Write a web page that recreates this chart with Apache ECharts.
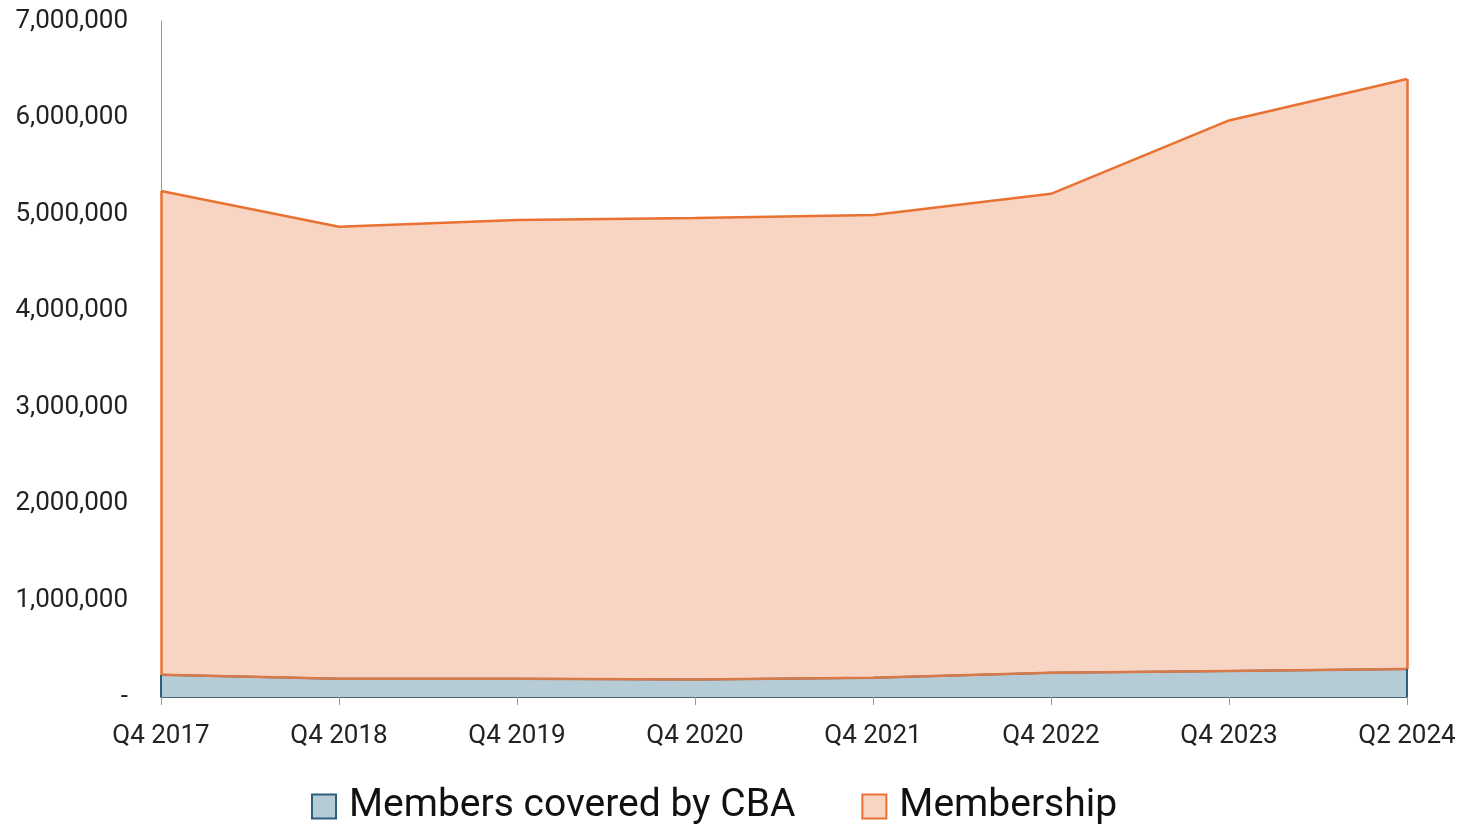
<!DOCTYPE html>
<html>
<head>
<meta charset="utf-8">
<script src="https://cdn.jsdelivr.net/npm/echarts@6/dist/echarts.min.js"></script>
<style>
  html, body { margin: 0; padding: 0; background: #fff; }
  #chart { width: 1465px; height: 825px; }
</style>
</head>
<body>
<div id="chart"></div>
<script>
const categories = ["Q4 2017", "Q4 2018", "Q4 2019", "Q4 2020", "Q4 2021", "Q4 2022", "Q4 2023", "Q2 2024"];
// members covered by a CBA (bottom band)
const cbaMembers = [230000, 190000, 190000, 180000, 200000, 250000, 270000, 290000];
// membership, stacked on top of the CBA band
const membership = [5010000, 4680000, 4750000, 4780000, 4790000, 4960000, 5700000, 6110000];

const last = categories.length - 1;
const totals = cbaMembers.map((v, i) => v + membership[i]);

const font = "Roboto, 'Liberation Sans', sans-serif";
const blueLine = "#2b5f7c";
const orangeLine = "#e97132";

// side edges of each band, like the spreadsheet's area border
const edge = (i, from, to) => [
  { coord: [categories[i], from] },
  { coord: [categories[i], to] }
];

const myChart = echarts.init(document.getElementById("chart"));

const option = {
  animation: false,
  grid: { left: 161, right: 58, top: 21, bottom: 128 },
  legend: {
    top: 782,
    left: 306,
    itemWidth: 24,
    itemHeight: 24,
    itemGap: 66,
    textStyle: { fontFamily: font, fontSize: 39, color: "#111", padding: [0, 0, 0, 8] },
    data: [
      { name: "Members covered by CBA", icon: "rect", itemStyle: { color: "#b5cbd6", borderColor: blueLine, borderWidth: 2 } },
      { name: "Membership", icon: "rect", itemStyle: { color: "#f8d4c2", borderColor: orangeLine, borderWidth: 2 } }
    ]
  },
  xAxis: {
    type: "category",
    boundaryGap: false,
    data: categories,
    axisLine: { lineStyle: { color: "#4f6472", width: 2 } },
    axisTick: { show: true, length: 8, lineStyle: { color: "#999" } },
    axisLabel: { fontFamily: font, fontSize: 26, color: "#222", margin: 26 }
  },
  yAxis: {
    type: "value",
    min: 0,
    max: 7000000,
    interval: 1000000,
    splitLine: { show: false },
    axisLine: { show: true, lineStyle: { color: "#999", width: 1 } },
    axisTick: { show: false },
    axisLabel: {
      fontFamily: font, fontSize: 26, color: "#222", margin: 33,
      formatter: (v) => v === 0 ? "-" : v.toLocaleString("en-US")
    }
  },
  series: [
    {
      name: "Members covered by CBA",
      type: "line",
      stack: "total",
      data: cbaMembers,
      symbol: "none",
      lineStyle: { color: blueLine, width: 2 },
      itemStyle: { color: "#b5cbd6" },
      areaStyle: { color: "#b5cbd6", opacity: 1 },
      markLine: {
        silent: true, symbol: "none", label: { show: false },
        lineStyle: { color: blueLine, width: 2, type: "solid" },
        data: [edge(0, 0, cbaMembers[0]), edge(last, 0, cbaMembers[last])]
      }
    },
    {
      name: "Membership",
      type: "line",
      stack: "total",
      data: membership,
      symbol: "none",
      lineStyle: { color: orangeLine, width: 2.5 },
      itemStyle: { color: "#f8d4c2" },
      areaStyle: { color: "#f8d4c2", opacity: 1 },
      markLine: {
        silent: true, symbol: "none", label: { show: false },
        lineStyle: { color: orangeLine, width: 2.5, type: "solid" },
        data: [edge(0, cbaMembers[0], totals[0]), edge(last, cbaMembers[last], totals[last])]
      }
    },
    {
      // orange border along the bottom of the membership band
      name: "edge",
      type: "line",
      data: cbaMembers,
      symbol: "none",
      silent: true,
      lineStyle: { color: "#d9794a", width: 2.5 },
      tooltip: { show: false }
    }
  ]
};

myChart.setOption(option);
</script>
</body>
</html>
